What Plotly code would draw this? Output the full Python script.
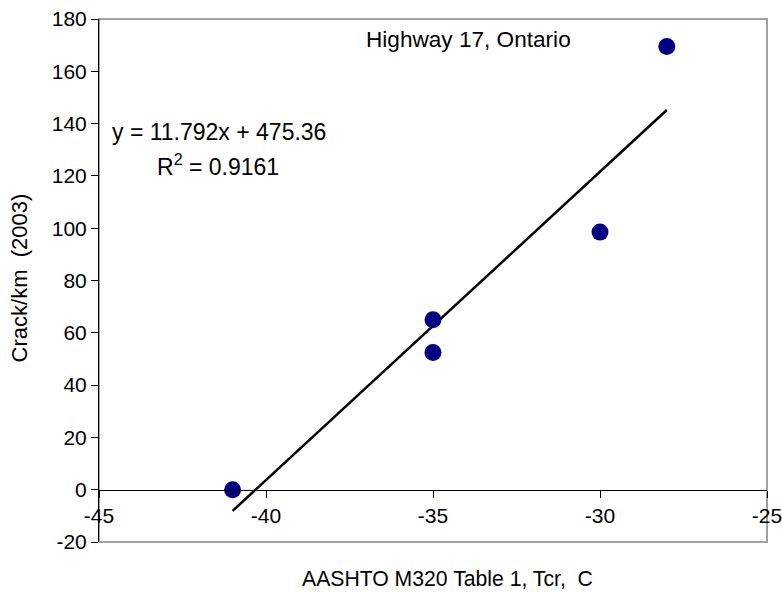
import plotly.graph_objects as go

x_vals = [-41, -35, -35, -30, -28]
y_vals = [0, 65, 52.5, 98.5, 169.5]
slope = 11.792
intercept = 475.36
x_ticks = [-45, -40, -35, -30, -25]
y_ticks = [-20, 0, 20, 40, 60, 80, 100, 120, 140, 160, 180]

fx = [min(x_vals), max(x_vals)]
fy = [slope * v + intercept for v in fx]

FONT = "Liberation Sans, Arial, sans-serif"

fig = go.Figure()
fig.add_trace(go.Scatter(x=fx, y=fy, mode="lines",
                         line=dict(color="black", width=2.5), showlegend=False, hoverinfo="skip"))
fig.add_trace(go.Scatter(x=x_vals, y=y_vals, mode="markers",
                         marker=dict(color="#000080", size=17, line=dict(width=0)),
                         showlegend=False))

ymin, ymax = -20, 180


def note(text, x, y, size, angle=0):
    return dict(text=text, x=x, y=y, xref="paper", yref="paper", xanchor="center",
                yanchor="middle", textangle=angle, showarrow=False, font=dict(size=size))


fig.update_layout(
    width=782, height=592,
    margin=dict(l=99, r=15, t=19, b=50),
    paper_bgcolor="white", plot_bgcolor="white",
    font=dict(family=FONT, size=21, color="black"),
    xaxis=dict(range=[-45, -25], tickvals=x_ticks, ticktext=[str(v) for v in x_ticks],
               showgrid=False, zeroline=False, showline=True, linecolor="black", linewidth=1,
               ticks="outside", ticklen=7, tickcolor="black", automargin=False,
               ticklabeloverflow="allow",
               anchor="free", position=(0 - ymin) / (ymax - ymin),
               tickfont=dict(size=21, family=FONT)),
    yaxis=dict(range=[ymin, ymax], tickvals=y_ticks, ticktext=[str(v) for v in y_ticks],
               showgrid=False, zeroline=False,
               showline=True, linecolor="black", linewidth=1, automargin=False,
               ticklabeloverflow="allow",
               ticks="outside", ticklen=7, tickcolor="black",
               tickfont=dict(size=21, family=FONT)),
    shapes=[dict(type="rect", xref="x domain", yref="y domain", x0=0, x1=1, y0=0, y1=1,
                 line=dict(color="#a0a0a0", width=2), layer="below")],
    annotations=[
        note("Highway 17, Ontario", 0.553, 0.960, 22.6),
        note("y = 11.792x + 475.36", 0.180, 0.784, 23),
        note("R<sup>2</sup> = 0.9161", 0.178, 0.721, 23),
        note("Crack/km  (2003)", -0.119, 0.505, 22, -90),
        note("AASHTO M320 Table 1, Tcr,  C", 0.521, -0.0707, 21.2),
    ],
)

fig.write_html("out.html", config={"displayModeBar": False},
               post_script="document.body.style.margin='0';")
